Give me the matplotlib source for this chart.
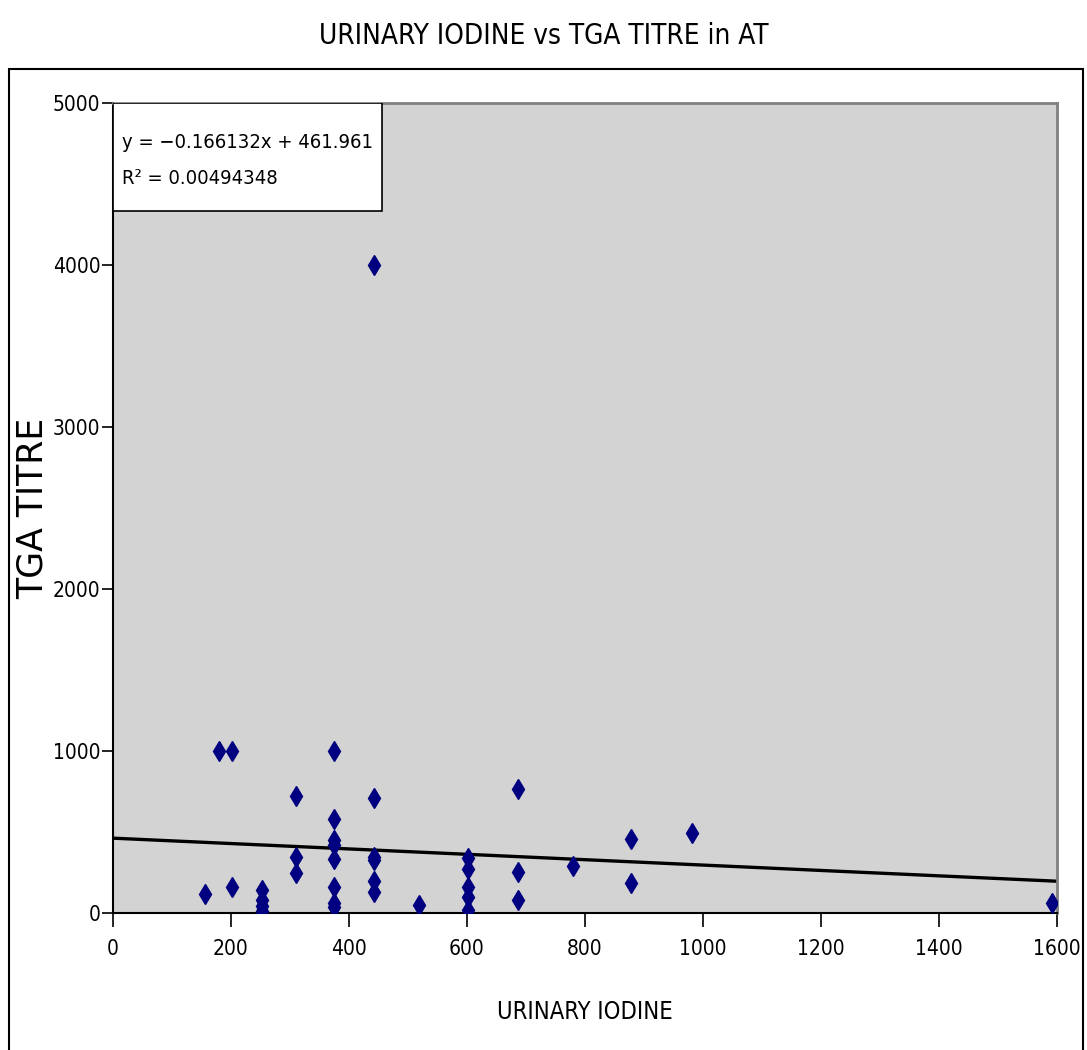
import numpy as np
import matplotlib
matplotlib.use("Agg")
import matplotlib.pyplot as plt
from matplotlib.patches import Rectangle

# urinary iodine (x) and TGA titre (y)
iodine = [156, 180, 202, 202,
          253, 253, 253, 253,
          311, 311, 311,
          375, 375, 375, 375, 375, 375, 375, 375,
          443, 443, 443, 443, 443, 443,
          519,
          601, 601, 601, 601, 601,
          686, 686, 686,
          780, 878, 878, 981, 1591]
tga = [117, 1000, 1000, 160,
       140, 80, 45, 10,
       722, 345, 247,
       1000, 580, 450, 420, 333, 160, 60, 35,
       4000, 710, 345, 325, 200, 130,
       49,
       340, 270, 160, 100, 20,
       765, 253, 80,
       290, 457, 185, 494, 62]

slope = -0.166132
intercept = 461.961
r2 = 0.00494348

xticks = [0, 200, 400, 600, 800, 1000, 1200, 1400, 1600]
yticks = [0, 1000, 2000, 3000, 4000, 5000]

plt.rcParams['font.family'] = ['DejaVu Sans']
plt.rcParams['font.stretch'] = 'condensed'

fig = plt.figure(figsize=(10.87, 10.5), dpi=100)
ax = fig.add_axes([113/1087, 1 - 913/1050, (1057-113)/1087, (913-103)/1050])
ax.set_facecolor('#d3d3d3')

# outer frame
fig.patches.append(Rectangle((9/1087, -0.01), (1083-9)/1087, 1 - 69/1050 + 0.01,
                             transform=fig.transFigure, fill=False,
                             edgecolor='black', lw=1.5))

xs = np.array([0, 1600])
ax.plot(xs, slope*xs + intercept, color='black', lw=2.4, zorder=2)
ax.plot(iodine, tga, linestyle='none', marker='d', color='#000080',
        markersize=10.5, zorder=3)

ax.set_xlim(0, 1600)
ax.set_ylim(0, 5000)
ax.set_xticks(xticks)
ax.set_yticks(yticks)
ax.tick_params(axis='x', length=10, width=1.2, direction='out', labelsize=15, pad=9)
ax.tick_params(axis='y', length=8, width=1.2, direction='out', labelsize=15, pad=1)

for s in ['left', 'bottom']:
    ax.spines[s].set_color('black')
    ax.spines[s].set_linewidth(1.5)
for s in ['top', 'right']:
    ax.spines[s].set_color('#808080')
    ax.spines[s].set_linewidth(2)

ax.set_xlabel('URINARY IODINE', fontsize=17)
ax.xaxis.set_label_coords(0.5, -0.107)
ax.set_ylabel('TGA TITRE', fontsize=25, fontstretch='normal')
ax.yaxis.set_label_coords(-0.067, 0.5)
fig.suptitle('URINARY IODINE vs TGA TITRE in AT', fontsize=20, y=0.979)

# equation box
ax.add_patch(Rectangle((0, 1 - 108/810), 269/944, 108/810, transform=ax.transAxes,
                       facecolor='white', edgecolor='black', lw=1.2, zorder=5))
ax.text(9/944, 1 - 39/810, 'y = \u22120.166132x + 461.961', transform=ax.transAxes,
        ha='left', va='center', fontsize=14.5, zorder=6)
ax.text(9/944, 1 - 76/810, 'R\u00b2 = 0.00494348', transform=ax.transAxes,
        ha='left', va='center', fontsize=14.5, zorder=6)

fig.savefig('out.png', dpi=100)
